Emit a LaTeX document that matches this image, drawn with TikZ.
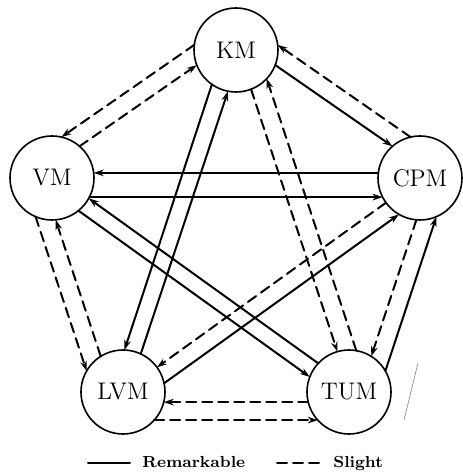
\documentclass[tikz,border=0pt]{standalone}
\usepackage{tikz}
\usetikzlibrary{arrows.meta}

\begin{document}
\begin{tikzpicture}[x=0.5pt,y=0.5pt,>={Stealth[length=5pt,width=3.3pt]},line cap=round,
  mode/.style={draw,circle,line width=0.8pt,minimum size=42pt,inner sep=0pt,outer sep=0pt,font=\large},
  remark/.style={->,line width=1pt},
  slight/.style={->,line width=1pt,dash pattern=on 5pt off 3pt},
  keytext/.style={anchor=base west,inner sep=0pt,font=\fontsize{8}{9}\selectfont\bfseries}]
\useasboundingbox (0,0) rectangle (462,472);
\node[mode] (KM) at (236,422) {KM};
\node[mode] (VM) at (52,294) {VM};
\node[mode] (CPM) at (420,294) {CPM};
\node[mode] (LVM) at (123,80) {LVM};
\node[mode] (TUM) at (349,80) {TUM};
\draw[slight] (KM.173) -- (VM.77);
\draw[slight] (VM.49) -- (KM.201);
\draw[slight] (CPM.103) -- (KM.7);
\draw[remark] (KM.339) -- (CPM.131);
\draw[slight] (TUM.194) -- (LVM.346);
\draw[slight] (LVM.318) -- (TUM.222);
\draw[slight] (VM.247) -- (LVM.150);
\draw[slight] (LVM.122) -- (VM.275);
\draw[remark] (TUM.30) -- (CPM.293);
\draw[slight] (CPM.265) -- (TUM.58);
\draw[remark] (CPM.173) -- (VM.7);
\draw[remark] (VM.333) -- (CPM.207);
\draw[remark] (KM.235) -- (LVM.88);
\draw[remark] (LVM.65) -- (KM.259);
\draw[slight] (KM.291) -- (TUM.106);
\draw[slight] (TUM.80) -- (KM.317);
\draw[remark] (TUM.137) -- (VM.331);
\draw[remark] (VM.309) -- (TUM.159);
\draw[slight] (CPM.216) -- (LVM.36);
\draw[remark] (LVM.12) -- (CPM.240);
\draw[gray,line width=0.3pt] (418,109) -- (404,52);
\draw[line width=1pt] (88,9) -- (130,9);
\node[keytext] (remarktext) at (142,4) {Remarkable};
\draw[line width=1pt,dash pattern=on 5pt off 3pt] (277,9) -- (320,9);
\node[keytext] (slighttext) at (333,4) {Slight};
\end{tikzpicture}
\end{document}
